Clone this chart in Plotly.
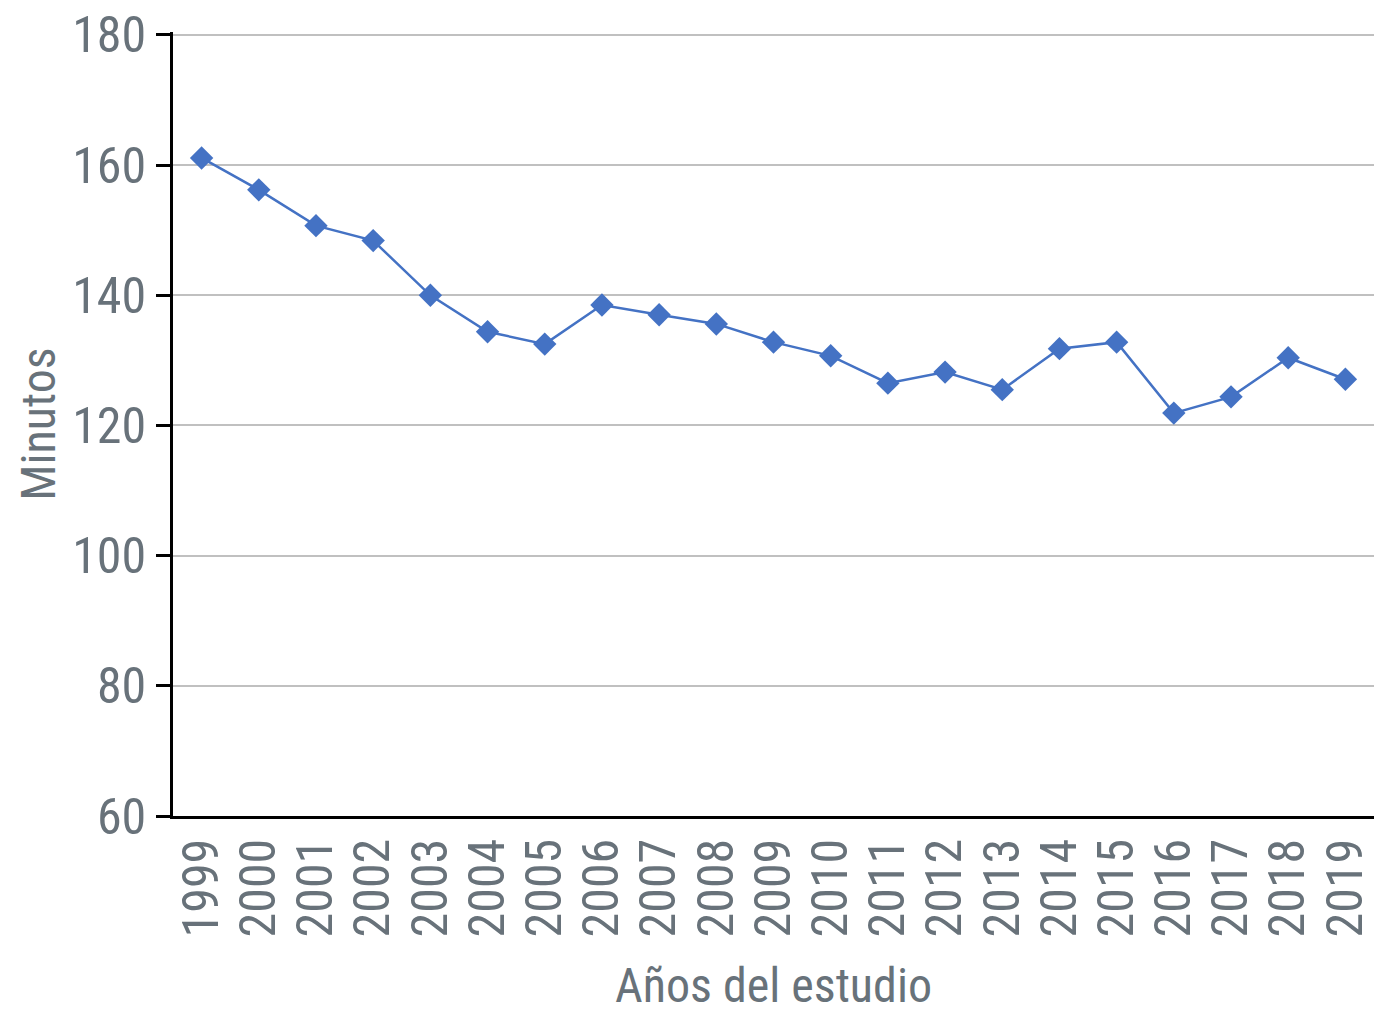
import plotly.graph_objects as go

years = [str(y) for y in range(1999, 2020)]
minutos = [161.1, 156.2, 150.7, 148.4, 140.0, 134.4, 132.5, 138.5, 137.0, 135.6,
           132.8, 130.7, 126.5, 128.2, 125.5, 131.8, 132.8, 121.9, 124.4, 130.4, 127.1]
y_ticks = [60, 80, 100, 120, 140, 160, 180]

FONT = "Liberation Sans Narrow, Roboto Condensed, Roboto, sans-serif"
GRAY = "#68727a"
FS = 50

fig = go.Figure()
fig.add_trace(go.Scatter(
    x=years, y=minutos, mode="lines+markers",
    line=dict(color="#4472c4", width=2.5),
    marker=dict(symbol="diamond", size=18, color="#4472c4"),
    showlegend=False,
))

fig.update_layout(
    width=1395, height=1024,
    margin=dict(l=173, r=21, t=32, b=208),
    paper_bgcolor="white", plot_bgcolor="white",
    font=dict(family=FONT, color=GRAY),
    xaxis=dict(
        type="category", range=[-0.5, 20.5], automargin=False,
        tickmode="array", tickvals=years, ticktext=years,
        tickangle=-90, tickfont=dict(size=FS, color=GRAY, family=FONT),
        showline=True, linecolor="black", linewidth=2.5,
        showgrid=False, ticks="",
        title=dict(text="Años del estudio", font=dict(size=48, color=GRAY, family=FONT), standoff=32),
    ),
    yaxis=dict(
        range=[60, 180.45], tickmode="array", tickvals=y_ticks, automargin=False,
        tickfont=dict(size=FS, color=GRAY, family=FONT),
        showline=True, linecolor="black", linewidth=2.5,
        ticks="outside", ticklen=14, tickwidth=2.5, tickcolor="black",
        showgrid=True, gridcolor="#c0c0c0", gridwidth=2,
        zeroline=False,
        title=dict(text="Minutos", font=dict(size=48, color=GRAY, family=FONT), standoff=2),
    ),
)

fig.write_html("out.html", config={"displayModeBar": False},
               post_script="document.body.style.margin='0';")
